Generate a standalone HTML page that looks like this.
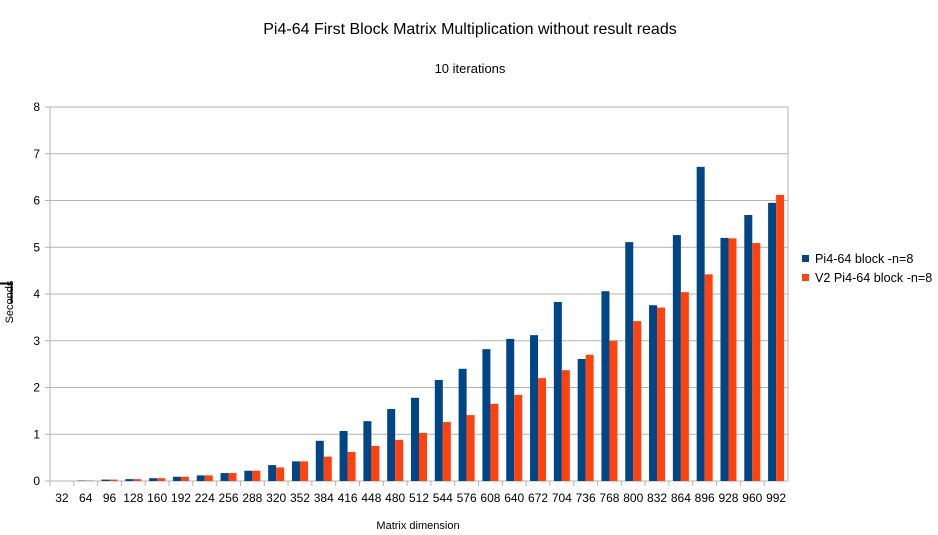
<!DOCTYPE html>
<html><head><meta charset="utf-8"><style>
body{margin:0;background:#fff;}
svg{display:block;font-family:"Liberation Sans",sans-serif;}
</style></head><body>
<svg id="c" width="938" height="535">
<text x="470" y="34" text-anchor="middle" font-size="16" fill="#000">Pi4-64 First Block Matrix Multiplication without result reads</text>
<text x="470" y="73" text-anchor="middle" font-size="13" fill="#000">10 iterations</text>
<text x="418" y="529" text-anchor="middle" font-size="11" fill="#000">Matrix dimension</text>
<text transform="translate(13,302) rotate(-90)" text-anchor="middle" font-size="11" fill="#000">Seconds</text>
<path d="M0,283.5H11.5V303" stroke="#000" stroke-width="2" fill="none"/>
<g id="grid"></g><g id="bars"></g><g id="xl"></g>
<g>
<rect x="802" y="255" width="7" height="7" fill="#004586"/>
<text x="815" y="263" font-size="12.6">Pi4-64 block -n=8</text>
<rect x="802" y="274" width="7" height="7" fill="#ff420e"/>
<text x="815" y="282" font-size="12.6">V2 Pi4-64 block -n=8</text>
</g>
</svg>
<script>
const categories=[32,64,96,128,160,192,224,256,288,320,352,384,416,448,480,512,544,576,608,640,672,704,736,768,800,832,864,896,928,960,992];
const seriesA=[0,0.01,0.03,0.04,0.06,0.09,0.12,0.17,0.22,0.34,0.42,0.86,1.07,1.28,1.54,1.78,2.16,2.4,2.82,3.04,3.12,3.83,2.61,4.06,5.11,3.76,5.26,6.72,5.2,5.69,5.95];
const seriesB=[0,0.01,0.03,0.04,0.06,0.09,0.12,0.17,0.22,0.29,0.42,0.52,0.62,0.75,0.88,1.03,1.26,1.41,1.65,1.84,2.2,2.37,2.7,3.0,3.42,3.71,4.04,4.42,5.19,5.09,6.12];
const yTicks=[0,1,2,3,4,5,6,7,8];
const NS="http://www.w3.org/2000/svg";
const X0=50,X1=788,Y0=481,Y1=107,YMAX=8;
const slot=(X1-X0)/categories.length;
const y=v=>Y0-(v/YMAX)*(Y0-Y1);
const xc=i=>X0+(i+0.5)*slot;
function mk(t,a,p){const e=document.createElementNS(NS,t);for(const k in a)e.setAttribute(k,a[k]);p.appendChild(e);return e;}
const g=document.getElementById('grid');
yTicks.forEach(t=>{
 const l=mk('line',{x1:X0-5,x2:X1,y1:y(t),y2:y(t),stroke:'#b3b3b3','stroke-width':1},g);
 
 
 const tx=mk('text',{x:X0-10,y:y(t)+4,'text-anchor':'end','font-size':12},g);
 tx.textContent=t;
 
 
});
const ax=mk('line',{x1:X0,x2:X0,y1:Y1,y2:Y0+5,stroke:'#b3b3b3'},g);


const ax2=mk('line',{x1:X1,x2:X1,y1:Y1,y2:Y0,stroke:'#b3b3b3'},g);


const b=document.getElementById('bars'),xl=document.getElementById('xl');
categories.forEach((c,i)=>{
 const tk=mk('line',{x1:X0+i*slot,x2:X0+i*slot,y1:Y0,y2:Y0+5,stroke:'#b3b3b3'},xl);
 
 
 const ra=mk('rect',{x:xc(i)-8,y:y(seriesA[i]),width:8,height:Y0-y(seriesA[i]),fill:'#004586'},b);
 
 
 const rb=mk('rect',{x:xc(i),y:y(seriesB[i]),width:8,height:Y0-y(seriesB[i]),fill:'#ff420e'},b);
 
 
 const t=mk('text',{x:xc(i),y:502,'text-anchor':'middle','font-size':12},xl);
 t.textContent=c;
 
 
});
</script>
</body></html>
